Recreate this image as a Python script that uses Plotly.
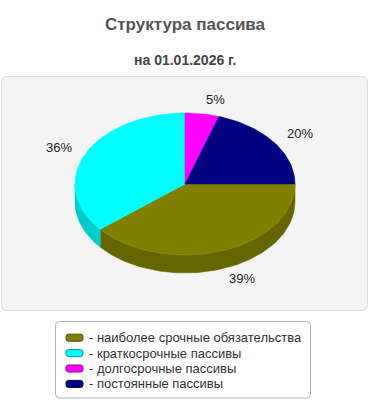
import math
import plotly.graph_objects as go

# ---- data ----
categories = ["наиболее срочные обязательства", "краткосрочные пассивы",
              "долгосрочные пассивы", "постоянные пассивы"]
values = [39, 36, 5, 20]
colors = ["#808000", "#00FFFF", "#FF00FF", "#000080"]
title_text = "Структура пассива"
subtitle_text = "на 01.01.2026 г."

# ---- style / geometry (pixel-like plot units) ----
W, H = 370, 400
CX, CY, RX, RY, DEPTH = 185, 184, 110, 71, 18
LBL_DX, LBL_DY, LBL_FRONT = 13, 15, 14
FONT = "Liberation Sans, Arial, sans-serif"


def darker(hexc, f=0.8):
    h = hexc.lstrip("#")
    r, g, b = (int(h[i:i + 2], 16) for i in (0, 2, 4))
    return "#%02x%02x%02x" % (int(r * f), int(g * f), int(b * f))


def rrect(x0, y0, x1, y1, r):
    return (f"M {x0+r},{y0} L {x1-r},{y0} Q {x1},{y0} {x1},{y0+r} "
            f"L {x1},{y1-r} Q {x1},{y1} {x1-r},{y1} L {x0+r},{y1} "
            f"Q {x0},{y1} {x0},{y1-r} L {x0},{y0+r} Q {x0},{y0} {x0+r},{y0} Z")


total = sum(values)
angles = []
a = 0.0
for v in values:
    a1 = a + 2 * math.pi * v / total
    angles.append((a, a1))
    a = a1


def arc(t0, t1, dy=0.0, n=None):
    n = n or max(4, int(abs(t1 - t0) / (2 * math.pi) * 240))
    xs, ys = [], []
    for i in range(n + 1):
        t = t0 + (t1 - t0) * i / n
        xs.append(CX + RX * math.cos(t))
        ys.append(CY + RY * math.sin(t) + dy)
    return xs, ys


fig = go.Figure()

# side walls (front half: 0..pi)
for (t0, t1), col in zip(angles, colors):
    s0, s1 = max(t0, 0), min(t1, math.pi)
    if s1 <= s0:
        continue
    xt, yt = arc(s0, s1)
    xb, yb = arc(s1, s0, DEPTH)
    dc = darker(col)
    fig.add_trace(go.Scatter(x=xt + xb + [xt[0]], y=yt + yb + [yt[0]],
                             fill="toself", fillcolor=dc, mode="lines",
                             line=dict(color=dc, width=0.5),
                             hoverinfo="skip", showlegend=False))

# top faces
for (t0, t1), col, name, v in zip(angles, colors, categories, values):
    xs, ys = arc(t0, t1)
    fig.add_trace(go.Scatter(x=[CX] + xs + [CX], y=[CY] + ys + [CY],
                             fill="toself", fillcolor=col, mode="lines",
                             line=dict(color=col, width=0.5), name=name,
                             hoverinfo="name", showlegend=False))

shapes = [
    dict(type="path", path=rrect(1.5, 76.5, 367.5, 310.5, 6), xref="x", yref="y",
         fillcolor="#f4f4f4", line=dict(color="#dddddd", width=1), layer="below"),
    dict(type="path", path=rrect(55.5, 321.5, 310.5, 398, 4), xref="x", yref="y",
         fillcolor="#ffffff", line=dict(color="#b0b0b0", width=1), layer="below"),
]
annotations = [
    dict(text=f"<b>{title_text}</b>", x=W / 2, y=24, xref="x", yref="y",
         showarrow=False, font=dict(family=FONT, size=17, color="#555555")),
    dict(text=f"<b>{subtitle_text}</b>", x=W / 2, y=60, xref="x", yref="y",
         showarrow=False, font=dict(family=FONT, size=14, color="#444444")),
]

# percentage labels
for (t0, t1), v in zip(angles, values):
    tm = (t0 + t1) / 2
    c, s = math.cos(tm), math.sin(tm)
    annotations.append(dict(
        text=f"{round(100 * v / total)}%",
        x=CX + (RX + LBL_DX) * c,
        y=CY + (RY + LBL_DY) * s + (LBL_FRONT if s > 0 else 0),
        xref="x", yref="y", showarrow=False,
        xanchor="left" if c > 0 else "right", yanchor="middle",
        font=dict(family=FONT, size=13, color="#222222")))

row0, row_step = 337.7, 15.4
for i, (name, col) in enumerate(zip(categories, colors)):
    yc = row0 + i * row_step
    shapes.append(dict(type="path", path=rrect(66, yc - 3.5, 83, yc + 3.5, 2.5),
                       xref="x", yref="y", fillcolor=col,
                       line=dict(color=darker(col, 0.6), width=1)))
    annotations.append(dict(text="- " + name, x=87, y=yc, xref="x", yref="y",
                            xanchor="left", yanchor="middle", showarrow=False,
                            font=dict(family=FONT, size=13, color="#333333")))

fig.update_layout(
    width=W, height=H, autosize=False,
    margin=dict(l=0, r=0, t=0, b=0),
    paper_bgcolor="white", plot_bgcolor="rgba(0,0,0,0)",
    xaxis=dict(range=[0, W], visible=False, fixedrange=True),
    yaxis=dict(range=[H, 0], visible=False, fixedrange=True),
    shapes=shapes, annotations=annotations, showlegend=False,
)

fig.write_html("out.html")
